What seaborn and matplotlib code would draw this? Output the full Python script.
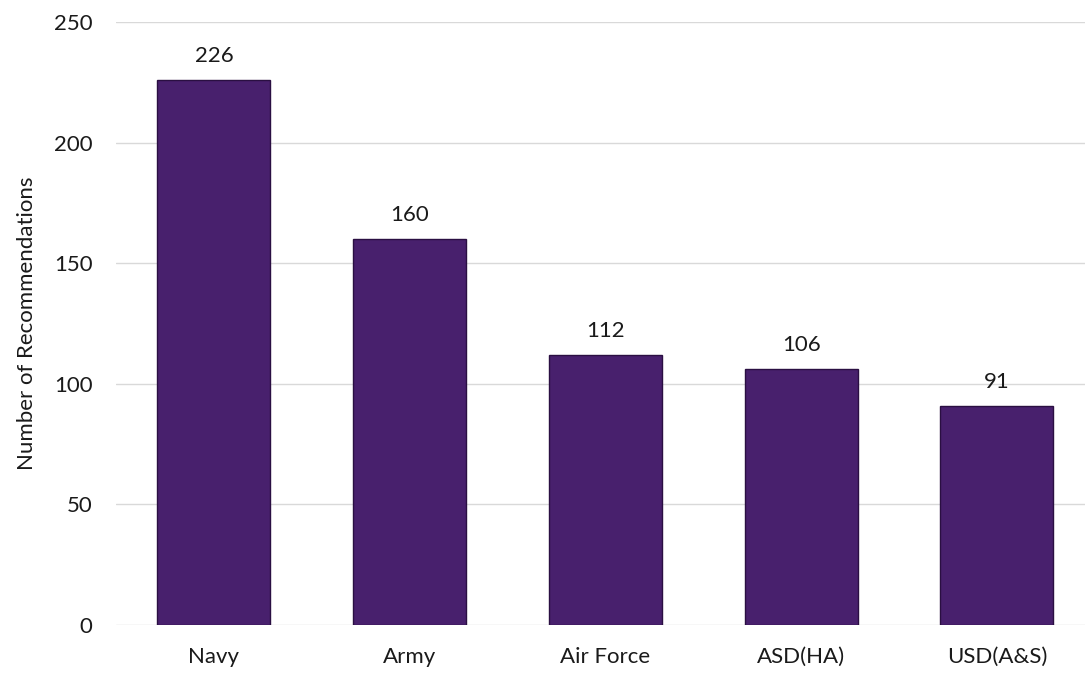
"""
Recommendations by organization - bar chart
"""
import pandas as pd
import numpy as np
import matplotlib
matplotlib.use('Agg')
import matplotlib.pyplot as plt
import seaborn as sns

# Data
organizations = ['Navy', 'Army', 'Air Force', 'ASD(HA)', 'USD(A&S)']
recommendations = [226, 160, 112, 106, 91]
y_ticks = [0, 50, 100, 150, 200, 250]

df = pd.DataFrame({'organization': organizations,
                   'recommendations': recommendations})

sns.set_theme(style='white')
plt.rcParams['font.family'] = ['Lato', 'DejaVu Sans']

bar_color = '#48206d'
text_color = '#1a1a1a'

fig = plt.figure(figsize=(10.85, 6.75), dpi=100)
ax = fig.add_axes([116 / 1085, 50 / 675, 969 / 1085, 603 / 675])

sns.barplot(data=df, x='organization', y='recommendations', color=bar_color,
            width=0.577, saturation=1, edgecolor='#2a0f42', linewidth=1.0,
            ax=ax, zorder=3)

# value labels above bars
for container in ax.containers:
    ax.bar_label(container, fmt='%d', padding=10, fontsize=16,
                 color=text_color)

ax.set_ylim(0, 250)
ax.set_yticks(y_ticks)
ax.set_xlim(-0.5, 4.45)
ax.yaxis.grid(True, color='#d9d9d9', linewidth=1.0, zorder=0)
ax.xaxis.grid(False)
for side in ['top', 'right', 'left', 'bottom']:
    ax.spines[side].set_visible(False)

ax.tick_params(axis='y', length=0, pad=17, labelsize=16, labelcolor=text_color)
ax.tick_params(axis='x', length=0, pad=16, labelsize=16, labelcolor=text_color)
ax.set_xlabel('')
ax.set_ylabel('Number of Recommendations', fontsize=16, color=text_color)
ax.yaxis.set_label_coords(-0.082, 0.5)

plt.savefig('out.png', dpi=100)
print("Saved out.png")
